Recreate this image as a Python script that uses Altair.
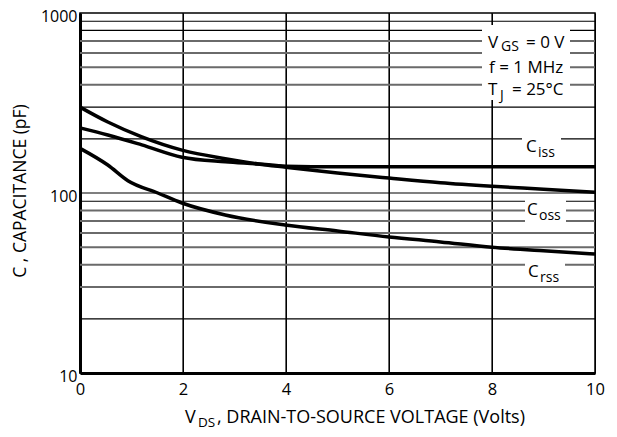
import altair as alt
import pandas as pd

FONT = "Open Sans"

# ---- data ----
ciss_v = [0, 0.54, 1.2, 1.98, 2.82, 3.46, 4.0, 5, 6, 7, 8, 9, 10]
ciss_c = [230, 210, 185, 158, 149, 145, 141, 140, 140, 140, 140, 140, 140]
coss_v = [0, 0.54, 1.2, 1.98, 2.82, 3.46, 4.0, 5, 6, 7, 8, 9, 10]
coss_c = [300, 248, 205, 173, 155, 145, 139, 129, 121, 114, 109, 105, 101]
crss_v = [0, 0.54, 0.93, 1.51, 1.98, 2.82, 3.98, 5, 6, 7, 8, 9, 10]
crss_c = [177, 143, 117, 100, 88, 75.5, 66.4, 61.5, 57, 53.5, 50, 47.7, 45.8]

x_ticks = [0, 2, 4, 6, 8, 10]
y_ticks = [10, 100, 1000]
x_grid = [2, 4, 6, 8]
y_grid_black = [20, 90, 100, 200, 300, 800, 900]
y_grid_gray = [30, 40, 50, 60, 70, 80, 400, 500, 600, 700]

curves = pd.concat([
    pd.DataFrame({"V": ciss_v, "C": ciss_c, "s": "Ciss"}),
    pd.DataFrame({"V": coss_v, "C": coss_c, "s": "Coss"}),
    pd.DataFrame({"V": crss_v, "C": crss_c, "s": "Crss"}),
])

W, H = 515, 360

xscale = alt.Scale(domain=[0, 10], nice=False, zero=False)
yscale = alt.Scale(type="log", domain=[10, 1000], nice=False)
xaxis = alt.Axis(values=x_ticks, title=None, ticks=False, grid=True, gridColor="black",
                 gridWidth=1, gridOpacity=1, domainColor="black", domainWidth=3,
                 labelFont=FONT, labelFontSize=16.5, labelColor="black", labelPadding=8,
                 labelFlush=False)
yaxis = alt.Axis(values=y_ticks, title=None, ticks=False, grid=False, domainColor="black",
                 domainWidth=3, labelFont=FONT, labelFontSize=16, labelColor="black",
                 labelPadding=3, labelOffset=3.5, format="d", labelFlush=False)

X = lambda f: alt.X(f, scale=xscale, axis=xaxis)
Y = lambda f: alt.Y(f, scale=yscale, axis=yaxis)

vgrid = alt.Chart(pd.DataFrame({"V": x_grid})).mark_rule(color="black", strokeWidth=1.2).encode(x=X("V:Q"))
hgrid_b = alt.Chart(pd.DataFrame({"C": y_grid_black})).mark_rule(color="black", strokeWidth=1.2).encode(y=Y("C:Q"))
hgrid_g = alt.Chart(pd.DataFrame({"C": y_grid_gray})).mark_rule(color="#6a6a6a", strokeWidth=2).encode(y=Y("C:Q"))

one = pd.DataFrame({"a": [0]})


def box(x1, x2, y1, y2):
    return alt.Chart(one).mark_rect(color="white").encode(
        x=alt.value(x1), x2=alt.value(x2), y=alt.value(y1), y2=alt.value(y2))


def txt(s, x, y, size=17, align="left", angle=None):
    kw = dict(text=s, align=align, baseline="alphabetic", font=FONT, fontSize=size, color="black")
    if angle is not None:
        kw["angle"] = angle
        kw["baseline"] = "middle"
    return alt.Chart(one).mark_text(**kw).encode(x=alt.value(x), y=alt.value(y))


boxes = [
    box(402, 490, 12, 87),
    box(442, 481, 117, 147),
    box(445, 486, 181, 211),
    box(445, 485, 245, 271),
]

lines = alt.Chart(curves).mark_line(color="black", strokeWidth=3.5, interpolate="monotone").encode(
    x=X("V:Q"), y=Y("C:Q"), detail="s:N")

texts = [
    txt("V", 408, 35), txt("GS", 421, 38, 14), txt("= 0 V", 446, 35),
    txt("f = 1 MHz", 409, 60),
    txt("T", 408, 82), txt("J", 420, 87, 14), txt("= 25°C", 432, 82),
    txt("C", 446, 139), txt("iss", 458, 144, 14),
    txt("C", 447, 202), txt("oss", 459, 207, 14),
    txt("C", 448, 264), txt("rss", 460, 269, 14),
    txt("V", 105, 409.5, 18), txt("DS", 118, 413.5, 13.5), txt(", DRAIN-TO-SOURCE VOLTAGE (Volts)", 137, 409.5, 18),
    txt("C , CAPACITANCE (pF)", -59, 178, 17.5, align="center", angle=270),
]

chart = alt.layer(vgrid, hgrid_g, hgrid_b, *boxes, lines, *texts).properties(
    width=W, height=H, autosize="none",
    padding={"left": 72, "top": 5, "right": 14, "bottom": 56},
    background="white",
).configure_view(stroke="black", strokeWidth=1.5)

chart.save("out.html", embed_options={"renderer": "svg", "actions": False})
